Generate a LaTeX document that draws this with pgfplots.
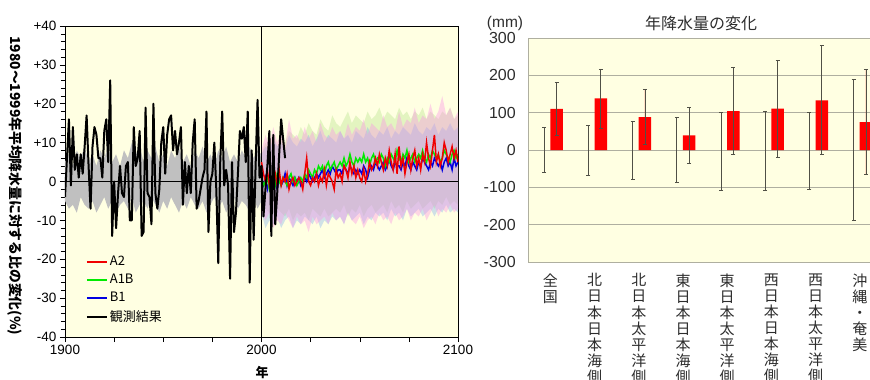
\documentclass[border=0pt]{standalone}
\usepackage{fontspec}
\setmainfont{Liberation Sans}
\newfontfamily\jp{Noto Sans CJK JP}
\usepackage{pgfplots}
\pgfplotsset{compat=1.18}
\definecolor{bgy}{RGB}{255,255,226}
\definecolor{bandgray}{RGB}{192,192,192}
\definecolor{bpink}{RGB}{250,150,230}
\definecolor{bblue}{RGB}{120,170,240}
\definecolor{bgreen}{RGB}{175,225,130}
\definecolor{cred}{RGB}{240,0,0}
\definecolor{cgreen}{RGB}{0,235,0}
\definecolor{cblue}{RGB}{0,0,225}
\definecolor{errc}{RGB}{80,80,70}
\definecolor{gridc}{RGB}{175,175,160}
\definecolor{txtc}{RGB}{45,45,45}
\begin{document}
\begin{tikzpicture}[x=1pt,y=1pt]
\useasboundingbox (0,0) rectangle (870,380);
\clip (0,0) rectangle (870,380);
% ---------------- left chart ----------------
\begin{axis}[at={(65pt,43pt)}, anchor=south west, scale only axis,
  width=393pt, height=311pt,
  xmin=1900, xmax=2100, ymin=-40, ymax=40,
  axis background/.style={fill=bgy},
  xtick={1900,1925,...,2100}, xticklabels={1900,,,,2000,,,,2100},
  ytick={-40,-30,...,40}, yticklabels={-40,-30,-20,-10,0,+10,+20,+30,+40},
  minor y tick num=4, tick align=outside, xtick pos=bottom, ytick pos=left,
  major tick length=5pt, minor tick length=4pt,
  tick style={black, line width=0.5pt},
  axis line style={black, line width=0.6pt},
  ticklabel style={font=\fontsize{13.5}{14}\selectfont},
  legend style={at={(0.05,0.27)}, anchor=north west, draw=none, fill=none,
    font=\jp\fontsize{13}{15}\selectfont, row sep=3pt, inner sep=1pt},
  legend cell align=left,
  legend image code/.code={\draw[#1] (0pt,0pt) -- (20pt,0pt);},
]
% gray band 1900-2000
\addplot[fill=bandgray, draw=none, forget plot] coordinates {
(1900,5)(1902,7)(1904,4)(1906,8)(1908,6)(1910,9)(1912,5)(1914,7)(1916,4)(1918,8)(1920,6)(1922,9)(1924,5)(1926,7)(1928,4)(1930,8)(1932,6)(1934,10)(1936,7)(1938,9)(1940,5)(1942,8)(1944,6)(1946,9)(1948,5)(1950,7)(1952,4)(1954,8)(1956,6)(1958,9)(1960,5)(1962,7)(1964,4)(1966,8)(1968,6)(1970,9)(1972,5)(1974,7)(1976,4)(1978,8)(1980,6)(1982,9)(1984,5)(1986,7)(1988,5)(1990,8)(1992,6)(1994,9)(1996,6)(1998,8)(2000,7)
(2000,-5)(1998,-7)(1996,-4)(1994,-8)(1992,-6)(1990,-5)(1988,-7)(1986,-4)(1984,-6)(1982,-8)(1980,-5)(1978,-7)(1976,-4)(1974,-6)(1972,-8)(1970,-5)(1968,-7)(1966,-6)(1964,-4)(1962,-7)(1960,-5)(1958,-8)(1956,-6)(1954,-4)(1952,-7)(1950,-5)(1948,-8)(1946,-6)(1944,-4)(1942,-7)(1940,-5)(1938,-6)(1936,-8)(1934,-4)(1932,-7)(1930,-5)(1928,-6)(1926,-8)(1924,-5)(1922,-7)(1920,-4)(1918,-6)(1916,-8)(1914,-5)(1912,-7)(1910,-6)(1908,-4)(1906,-8)(1904,-6)(1902,-7)(1900,-5)};
% green band (A1B)
\addplot[fill=bgreen, fill opacity=0.35, draw=none, forget plot] coordinates {
(2000,7)(2002,10)(2004,8)(2006,12)(2008,9)(2010,11)(2012,10)(2014,13)(2016,12)(2018,11)(2020,14)(2022,12)(2024,15)(2026,13)(2028,12)(2030,16)(2032,14)(2034,13)(2036,17)(2038,15)(2040,14)(2042,16)(2044,18)(2046,15)(2048,17)(2050,16)(2052,15)(2054,18)(2056,16)(2058,17)(2060,19)(2062,16)(2064,18)(2066,17)(2068,16)(2070,19)(2072,17)(2074,18)(2076,16)(2078,18)(2080,17)(2082,19)(2084,16)(2086,18)(2088,17)(2090,16)(2092,18)(2094,17)(2096,19)(2098,16)(2100,17)
(2100,-6)(2098,-5)(2096,-6)(2094,-4)(2092,-6)(2090,-5)(2088,-7)(2086,-5)(2084,-6)(2082,-7)(2080,-5)(2078,-6)(2076,-7)(2074,-5)(2072,-8)(2070,-6)(2068,-7)(2066,-5)(2064,-8)(2062,-6)(2060,-7)(2058,-8)(2056,-6)(2054,-7)(2052,-9)(2050,-6)(2048,-8)(2046,-7)(2044,-9)(2042,-6)(2040,-8)(2038,-7)(2036,-8)(2034,-9)(2032,-7)(2030,-9)(2028,-8)(2026,-7)(2024,-10)(2022,-8)(2020,-9)(2018,-8)(2016,-10)(2014,-7)(2012,-9)(2010,-8)(2008,-7)(2006,-9)(2004,-8)(2002,-7)(2000,-6)};
% blue band (B1)
\addplot[fill=bblue, fill opacity=0.35, draw=none, forget plot] coordinates {
(2000,7)(2002,9)(2004,8)(2006,11)(2008,9)(2010,10)(2012,8)(2014,12)(2016,10)(2018,9)(2020,11)(2022,10)(2024,12)(2026,9)(2028,11)(2030,13)(2032,10)(2034,12)(2036,11)(2038,10)(2040,13)(2042,11)(2044,12)(2046,10)(2048,13)(2050,12)(2052,11)(2054,14)(2056,12)(2058,11)(2060,13)(2062,12)(2064,14)(2066,11)(2068,13)(2070,12)(2072,14)(2074,13)(2076,12)(2078,15)(2080,13)(2082,12)(2084,14)(2086,13)(2088,15)(2090,12)(2092,14)(2094,13)(2096,15)(2098,13)(2100,14)
(2100,-8)(2098,-7)(2096,-8)(2094,-6)(2092,-8)(2090,-7)(2088,-9)(2086,-7)(2084,-8)(2082,-9)(2080,-7)(2078,-8)(2076,-9)(2074,-7)(2072,-10)(2070,-8)(2068,-9)(2066,-7)(2064,-10)(2062,-8)(2060,-9)(2058,-8)(2056,-10)(2054,-9)(2052,-11)(2050,-8)(2048,-9)(2046,-10)(2044,-8)(2042,-11)(2040,-9)(2038,-10)(2036,-9)(2034,-11)(2032,-10)(2030,-12)(2028,-9)(2026,-11)(2024,-10)(2022,-9)(2020,-11)(2018,-10)(2016,-12)(2014,-9)(2012,-10)(2010,-12)(2008,-9)(2006,-11)(2004,-10)(2002,-12)(2000,-8)};
% pink band (A2)
\addplot[fill=bpink, fill opacity=0.4, draw=none, forget plot] coordinates {
(2000,8)(2002,12)(2004,9)(2006,14)(2008,10)(2010,13)(2012,9)(2014,16)(2016,11)(2018,12)(2020,10)(2022,14)(2024,11)(2026,13)(2028,10)(2030,15)(2032,12)(2034,11)(2036,14)(2038,12)(2040,13)(2042,11)(2044,15)(2046,12)(2048,14)(2050,13)(2052,16)(2054,12)(2056,15)(2058,14)(2060,13)(2062,17)(2064,14)(2066,15)(2068,13)(2070,18)(2072,14)(2074,16)(2076,15)(2078,19)(2080,15)(2082,17)(2084,16)(2086,20)(2088,16)(2090,18)(2092,22)(2094,17)(2096,19)(2098,16)(2100,18)
(2100,-7)(2098,-8)(2096,-6)(2094,-8)(2092,-7)(2090,-9)(2088,-6)(2086,-8)(2084,-10)(2082,-7)(2080,-9)(2078,-8)(2076,-10)(2074,-7)(2072,-9)(2070,-10)(2068,-8)(2066,-11)(2064,-9)(2062,-10)(2060,-8)(2058,-11)(2056,-9)(2054,-10)(2052,-12)(2050,-9)(2048,-11)(2046,-10)(2044,-8)(2042,-11)(2040,-9)(2038,-10)(2036,-8)(2034,-11)(2032,-9)(2030,-10)(2028,-11)(2026,-9)(2024,-13)(2022,-10)(2020,-11)(2018,-9)(2016,-12)(2014,-10)(2012,-8)(2010,-11)(2008,-10)(2006,-12)(2004,-8)(2002,-10)(2000,-8)};
% reference lines
\addplot[black, line width=0.6pt, forget plot] coordinates {(1900,0)(2100,0)};
\addplot[black, line width=0.6pt, forget plot] coordinates {(2000,-40)(2000,40)};
% B1
\addplot[draw=cblue, line width=1.5pt, forget plot] coordinates {
(2000,0)(2001,-1)(2002,1)(2003,-2)(2004,0)(2005,1)(2006,-1)(2007,0)(2008,-2)(2009,1)
(2010,-1)(2011,0)(2012,2)(2013,-1)(2014,1)(2015,0)(2016,-1)(2017,1)(2018,0)(2019,1)
(2020,-1)(2021,0)(2022,1)(2023,0)(2024,2)(2025,1)(2026,0)(2027,1)(2028,2)(2029,1)
(2030,2)(2031,3)(2032,1)(2033,2)(2034,3)(2035,2)(2036,4)(2037,3)(2038,2)(2039,3)
(2040,3)(2041,2)(2042,4)(2043,3)(2044,2)(2045,4)(2046,3)(2047,2)(2048,3)(2049,2)
(2050,3)(2051,2)(2052,4)(2053,3)(2054,1)(2055,3)(2056,4)(2057,3)(2058,5)(2059,4)
(2060,3)(2061,4)(2062,5)(2063,3)(2064,4)(2065,6)(2066,4)(2067,3)(2068,5)(2069,4)
(2070,4)(2071,3)(2072,5)(2073,4)(2074,6)(2075,4)(2076,3)(2077,5)(2078,4)(2079,3)
(2080,5)(2081,4)(2082,6)(2083,5)(2084,4)(2085,3)(2086,5)(2087,4)(2088,6)(2089,5)
(2090,4)(2091,5)(2092,3)(2093,5)(2094,6)(2095,4)(2096,5)(2097,3)(2098,6)(2099,4)(2100,5)};
% A1B
\addplot[draw=cgreen, line width=1.5pt, forget plot] coordinates {
(2000,1)(2001,-1)(2002,0)(2003,1)(2004,-2)(2005,0)(2006,1)(2007,-1)(2008,2)(2009,0)
(2010,-1)(2011,1)(2012,0)(2013,-1)(2014,1)(2015,2)(2016,0)(2017,1)(2018,-1)(2019,0)
(2020,1)(2021,0)(2022,2)(2023,1)(2024,3)(2025,2)(2026,1)(2027,3)(2028,2)(2029,4)
(2030,3)(2031,4)(2032,2)(2033,4)(2034,5)(2035,3)(2036,4)(2037,5)(2038,3)(2039,4)
(2040,5)(2041,4)(2042,6)(2043,4)(2044,5)(2045,7)(2046,5)(2047,4)(2048,6)(2049,5)
(2050,6)(2051,5)(2052,7)(2053,5)(2054,6)(2055,4)(2056,6)(2057,7)(2058,5)(2059,6)
(2060,5)(2061,7)(2062,6)(2063,4)(2064,6)(2065,5)(2066,7)(2067,6)(2068,5)(2069,8)
(2070,6)(2071,5)(2072,7)(2073,6)(2074,8)(2075,5)(2076,6)(2077,7)(2078,5)(2079,6)
(2080,7)(2081,6)(2082,8)(2083,6)(2084,5)(2085,7)(2086,6)(2087,8)(2088,7)(2089,6)
(2090,7)(2091,5)(2092,6)(2093,8)(2094,7)(2095,6)(2096,5)(2097,7)(2098,8)(2099,6)(2100,7)};
% A2
\addplot[draw=cred, line width=1.5pt, forget plot] coordinates {
(2000,5)(2001,2)(2002,0)(2003,3)(2004,-1)(2005,1)(2006,0)(2007,2)(2008,-1)(2009,3)
(2010,-1)(2011,1)(2012,0)(2013,2)(2014,-2)(2015,0)(2016,1)(2017,-1)(2018,0)(2019,1)
(2020,0)(2021,-2)(2022,2)(2023,6)(2024,0)(2025,-1)(2026,1)(2027,0)(2028,2)(2029,-1)
(2030,1)(2031,0)(2032,3)(2033,-1)(2034,2)(2035,1)(2036,0)(2037,-2)(2038,3)(2039,1)
(2040,2)(2041,0)(2042,4)(2043,3)(2044,1)(2045,5)(2046,2)(2047,4)(2048,1)(2049,3)
(2050,1)(2051,0)(2052,3)(2053,0)(2054,2)(2055,5)(2056,3)(2057,4)(2058,6)(2059,4)
(2060,7)(2061,5)(2062,3)(2063,6)(2064,4)(2065,8)(2066,5)(2067,3)(2068,7)(2069,2)
(2070,9)(2071,4)(2072,6)(2073,2)(2074,5)(2075,7)(2076,3)(2077,6)(2078,8)(2079,4)
(2080,6)(2081,3)(2082,7)(2083,5)(2084,10)(2085,6)(2086,4)(2087,8)(2088,12)(2089,5)
(2090,7)(2091,4)(2092,6)(2093,10)(2094,8)(2095,5)(2096,7)(2097,9)(2098,6)(2099,8)(2100,5)};
% observed
\addplot[draw=black, line width=2pt, line join=round, forget plot] coordinates {
(1900,-4)(1901,6)(1902,16)(1903,-1)(1904,14)(1905,3)(1906,7)(1907,1)(1908,7)(1909,2)
(1910,9)(1911,17)(1912,4)(1913,-7)(1914,9)(1915,14)(1916,12)(1917,6)(1918,6)(1919,1)
(1920,13)(1921,16)(1922,5)(1923,26)(1924,-14)(1925,0)(1926,-12)(1927,-3)(1928,4)(1929,-3)
(1930,-4)(1931,4)(1932,5)(1933,-10)(1934,-10)(1935,14)(1936,4)(1937,6)(1938,13)(1939,-14)
(1940,-13)(1941,19)(1942,-3)(1943,-4)(1944,-11)(1945,20)(1946,-3)(1947,-7)(1948,-2)(1949,10)
(1950,14)(1951,2)(1952,12)(1953,16)(1954,17)(1955,8)(1956,13)(1957,7)(1958,10)(1959,14)
(1960,-6)(1961,5)(1962,-3)(1963,4)(1964,-3)(1965,10)(1966,16)(1967,-7)(1968,-5)(1969,-2)
(1970,1)(1971,3)(1972,18)(1973,-13)(1974,0)(1975,2)(1976,10)(1977,-2)(1978,-21)(1979,5)
(1980,18)(1981,-1)(1982,3)(1983,-1)(1984,-25)(1985,5)(1986,-13)(1987,-8)(1988,2)(1989,13)
(1990,11)(1991,14)(1992,5)(1993,18)(1994,-26)(1995,8)(1996,-15)(1997,4)(1998,21)(1999,1)
(2000,4)(2001,-9)(2002,-2)(2003,4)(2004,13)(2005,-14)(2006,12)(2007,-11)(2008,-3)(2009,7)
(2010,16)(2011,11)(2012,6)};
\addlegendimage{draw=cred, line width=2pt}\addlegendentry{A2}
\addlegendimage{draw=cgreen, line width=2pt}\addlegendentry{A1B}
\addlegendimage{draw=cblue, line width=2pt}\addlegendentry{B1}
\addlegendimage{draw=black, line width=2pt}\addlegendentry{観測結果}
\end{axis}
\node[rotate=-90, font=\jp\bfseries\fontsize{13.8}{14}\selectfont, inner sep=0pt] at (15,194) {1980～1999年平均降水量に対する比の変化(\%)};
\node[font=\jp\bfseries\fontsize{13}{13}\selectfont, anchor=north, inner sep=0pt] at (262,14) {年};
% ---------------- right chart ----------------
\begin{axis}[at={(528.3pt,118pt)}, anchor=south west, scale only axis,
  width=353.6pt, height=224pt,
  xmin=-0.5, xmax=7.5, ymin=-300, ymax=300,
  axis background/.style={fill=bgy},
  ytick={-300,-200,...,300}, yticklabels={-300,-200,-100,0,100,200,300},
  ymajorgrids, grid style={gridc, line width=0.7pt},
  major tick length=0pt,
  axis line style={gridc, line width=0.8pt},
  yticklabel style={font=\fontsize{16}{16}\selectfont, text=txtc, xshift=-9pt},
  xtick={0,...,7},
  xticklabels={{全\\国},{北\\日\\本\\日\\本\\海\\側},{北\\日\\本\\太\\平\\洋\\側},{東\\日\\本\\日\\本\\海\\側},{東\\日\\本\\太\\平\\洋\\側},{西\\日\\本\\日\\本\\海\\側},{西\\日\\本\\太\\平\\洋\\側},{沖\\縄\\・\\奄\\美}},
  xticklabel style={align=center, anchor=north, text=txtc, yshift=-8pt,
    font=\jp\fontsize{15}{16.1}\selectfont},
]
\addplot[draw=none, mark=none, forget plot,
  error bars/.cd, y dir=both, y explicit,
  error bar style={draw=errc, line width=0.8pt},
  error mark options={draw=errc, line width=0.8pt, mark size=2pt, rotate=90}]
  coordinates {(-0.14,0) += (0,60) -= (0,60)
               (0.86,0) += (0,66) -= (0,67)
               (1.86,0) += (0,77) -= (0,78)
               (2.86,0) += (0,86) -= (0,87)
               (3.86,0) += (0,101) -= (0,107)
               (4.86,0) += (0,104) -= (0,107)
               (5.86,0) += (0,101) -= (0,105)
               (6.86,0) += (0,189) -= (0,189)};
\addplot[ybar, bar width=12.5pt, bar shift=0pt, fill=red, draw=none, forget plot,
  error bars/.cd, y dir=both, y explicit,
  error bar style={draw=errc, line width=0.8pt},
  error mark options={draw=errc, line width=0.8pt, mark size=2pt, rotate=90}]
  coordinates {(0.14,110) +- (0,72)
               (1.14,138) +- (0,79)
               (2.14,88) +- (0,74)
               (3.14,39) +- (0,76)
               (4.14,104) +- (0,116)
               (5.14,111) +- (0,130)
               (6.14,133) +- (0,146)
               (7.14,75) +- (0,140)};
\end{axis}
\node[font=\jp\fontsize{16}{16}\selectfont, text=txtc] at (701,357) {年降水量の変化};
\node[font=\fontsize{15.5}{16}\selectfont, text=txtc] at (505,357) {(mm)};
\end{tikzpicture}
\end{document}
